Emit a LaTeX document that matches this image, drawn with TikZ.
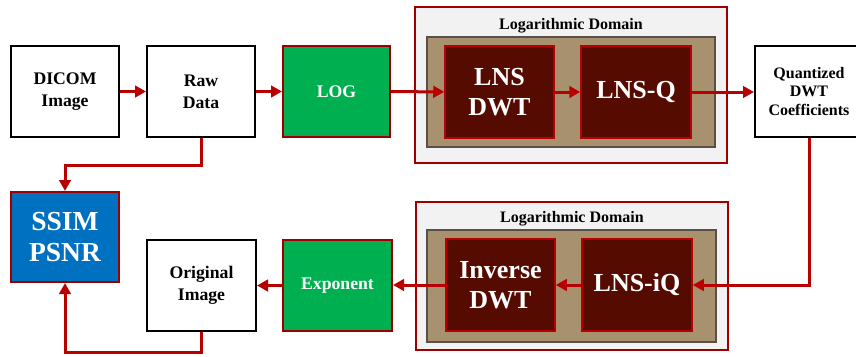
\documentclass[tikz,border=0pt]{standalone}
\usepackage{fontspec}
\setmainfont{Liberation Serif}
\usetikzlibrary{arrows.meta,calc}
\definecolor{arrred}{HTML}{B80000}
\definecolor{bordred}{HTML}{9E0000}
\definecolor{grn}{HTML}{00B050}
\definecolor{blu}{HTML}{0070C0}
\definecolor{maroon}{HTML}{560B00}
\definecolor{tan}{HTML}{A8916F}
\definecolor{lgray}{HTML}{F2F2F2}
\definecolor{dgray}{HTML}{5A5048}
\tikzset{
  whitebox/.style={draw=black, line width=2pt, fill=white, align=center, inner sep=0pt,
    font=\bfseries\fontsize{17.7}{22}\selectfont},
  greenbox/.style={draw=bordred, line width=2pt, fill=grn, text=white, align=center, inner sep=0pt,
    font=\bfseries\fontsize{17.7}{22}\selectfont},
  bluebox/.style={draw=bordred, line width=2pt, fill=blu, text=white, align=center, inner sep=0pt,
    font=\bfseries\fontsize{27.5}{31}\selectfont},
  marbox/.style={draw=arrred, line width=1.5pt, fill=maroon, text=white, align=center, inner sep=0pt,
    minimum width=109pt, minimum height=92pt, font=\bfseries\fontsize{26}{30}\selectfont},
  logdomain/.style={draw=bordred, line width=2pt, fill=lgray, inner sep=0pt},
  tanbox/.style={draw=dgray, line width=2pt, fill=tan, inner sep=0pt},
  dtitle/.style={font=\bfseries\fontsize{16}{19}\selectfont, inner sep=0pt},
  flow/.style={draw=arrred, line width=3pt, -{Triangle[length=11pt,width=11.5pt]}},
}
\begin{document}
\begin{tikzpicture}[x=1pt,y=-1pt]
\clip (0,0) rectangle (856,356);
\fill[white] (0,0) rectangle (856,356);
% top row
\node[whitebox, minimum width=108pt, minimum height=91pt] (dicom) at (65,91.5) {DICOM\\Image};
\node[whitebox, minimum width=108pt, minimum height=91pt] (raw) at (201,91.5) {Raw\\Data};
\node[greenbox, minimum width=107pt, minimum height=91pt] (log) at (336.5,91.5) {LOG};
\node[logdomain, minimum width=312pt, minimum height=156pt] (outer1) at (571,85) {};
\node[dtitle] (title1) at (571,26) {Logarithmic Domain};
\node[tanbox, minimum width=288pt, minimum height=110pt] (inner1) at (571,92) {};
\node[marbox] (lnsdwt) at (499.5,92) {LNS\\DWT};
\node[marbox, minimum width=110pt] (lnsq) at (636,92) {LNS-Q};
\node[whitebox, minimum width=108pt, minimum height=91pt,
  font=\bfseries\fontsize{16}{18.5}\selectfont] (quant) at (809,91.5) {Quantized\\DWT\\Coefficients};
% bottom row
\node[bluebox, minimum width=108pt, minimum height=90pt] (ssim) at (65,237) {SSIM\\PSNR};
\node[whitebox, minimum width=109pt, minimum height=91pt] (orig) at (201.5,285.5) {Original\\Image};
\node[greenbox, minimum width=109pt, minimum height=91pt] (expo) at (337.5,285.5) {Exponent};
\node[logdomain, minimum width=312pt, minimum height=148pt] (outer2) at (572,276) {};
\node[dtitle] (title2) at (572,218.5) {Logarithmic Domain};
\node[tanbox, minimum width=289pt, minimum height=112pt] (inner2) at (571.5,286) {};
\node[marbox] (invdwt) at (500.5,285) {Inverse\\DWT};
\node[marbox, minimum width=110pt] (lnsiq) at (637,285) {LNS-iQ};
% connectors
\draw[flow] (dicom) -- (raw);
\draw[flow] (raw) -- (log);
\draw[flow] (log) -- (lnsdwt);
\draw[flow] (lnsdwt) -- (lnsq);
\draw[flow] (lnsq) -- (quant.west |- lnsq.east);
\draw[flow] (quant.south) |- (lnsiq.east);
\draw[flow] (lnsiq) -- (invdwt);
\draw[flow] (invdwt) -- (expo.east |- invdwt.west);
\draw[flow] (expo) -- (orig);
\draw[flow] (raw.south) -- (raw.south |- 0,165) -| (ssim.north);
\draw[flow] (orig.south) -- (orig.south |- 0,352.5) -| (ssim.south);
\end{tikzpicture}
\end{document}
